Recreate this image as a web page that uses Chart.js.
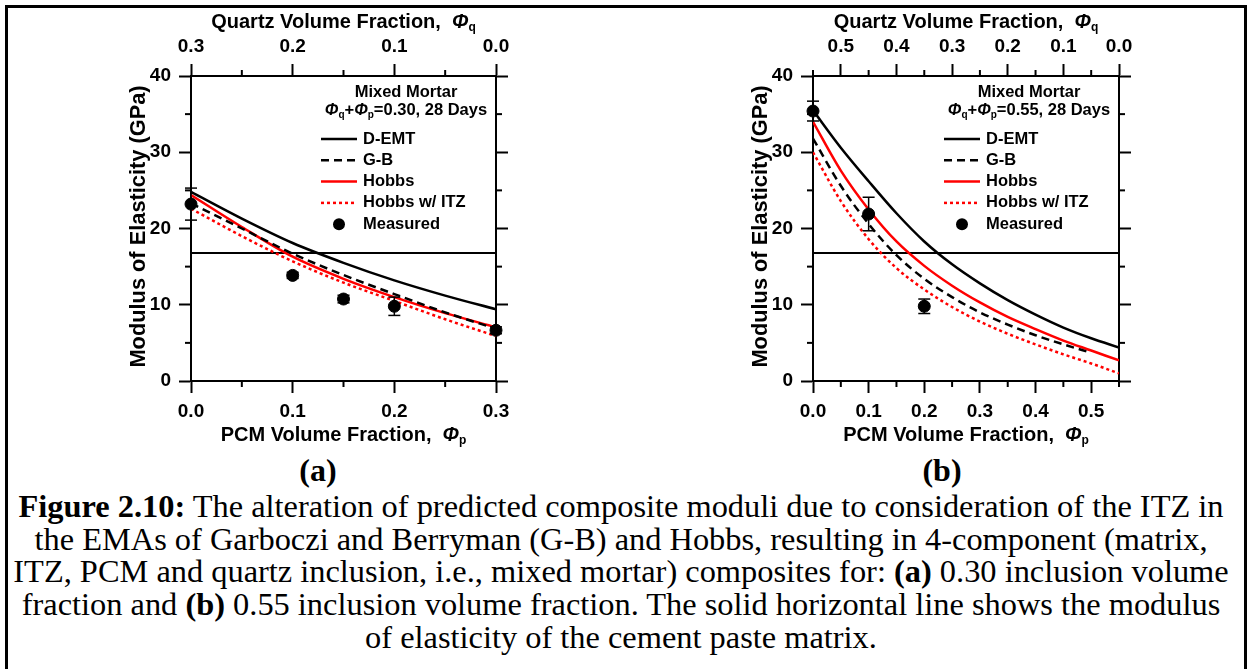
<!DOCTYPE html>
<html lang="en">
<head>
    <meta charset="UTF-8">
    <title>Figure 2.10</title>
    <script src="https://cdn.jsdelivr.net/npm/chart.js"></script>
    <style>
        body { margin: 0; width: 1252px; height: 669px; position: relative; background: #fff; overflow: hidden; }
        #frame { position: absolute; left: 5px; top: 5px; width: 1236px; height: 700px; border: 3px solid #000; }
        canvas { position: absolute; top: 0; }
        .lbl { position: absolute; width: 100px; text-align: center; font: bold 32px/32.5px "Liberation Serif", "Times New Roman", serif; }
        #caption { position: absolute; left: 0; top: 490px; width: 1242px; text-align: center; white-space: nowrap;
                   font: 32.4px/32.7px "Liberation Serif", "Times New Roman", serif; color: #000; }
    </style>
</head>
<body>
    <div id="frame"></div>
    <canvas id="chartA" width="620" height="450" style="left:0px"></canvas>
    <canvas id="chartB" width="626" height="450" style="left:626px"></canvas>
    <div class="lbl" style="left:268px; top:454px">(a)</div>
    <div class="lbl" style="left:892px; top:454px">(b)</div>
    <div id="caption"><b>Figure 2.10:</b> The alteration of predicted composite moduli due to consideration of the ITZ in<br>the EMAs of Garboczi and Berryman (G-B) and Hobbs, resulting in 4-component (matrix,<br>ITZ, PCM and quartz inclusion, i.e., mixed mortar) composites for: <b>(a)</b> 0.30 inclusion volume<br>fraction and <b>(b)</b> 0.55 inclusion volume fraction. The solid horizontal line shows the modulus<br>of elasticity of the cement paste matrix.</div>
    <script>
        // (a) 0.30 inclusion volume fraction
        const pcmA = [0, 0.05, 0.1, 0.15, 0.2, 0.25, 0.3];
        const demtA = [24.8, 21.3, 18.1, 15.5, 13.2, 11.2, 9.4];
        const gbA = [23.3, 20.0, 16.7, 13.9, 11.4, 9.0, 6.85];
        const hobbsA = [24.4, 20.2, 16.3, 13.4, 11.0, 8.9, 7.05];
        const itzA = [22.6, 19.0, 15.7, 12.9, 10.5, 8.1, 5.9];
        const measPcmA = [0, 0.1, 0.15, 0.2, 0.3];
        const measA = [23.2, 13.85, 10.75, 9.8, 6.65];
        const measErrA = [2.1, 0.4, 0.5, 1.2, 0.45];

        // (b) 0.55 inclusion volume fraction
        const pcmB = [0, 0.05, 0.1, 0.15, 0.2, 0.25, 0.3, 0.35, 0.4, 0.45, 0.5, 0.55];
        const demtB = [35.5, 30.6, 26.2, 22.0, 18.3, 15.3, 12.8, 10.6, 8.7, 7.0, 5.6, 4.4];
        const gbB = [31.8, 25.6, 20.6, 16.5, 13.4, 11.0, 9.0, 7.4, 6.0, 4.8, 3.7, null];
        const hobbsB = [34.0, 27.6, 22.5, 18.3, 15.1, 12.5, 10.3, 8.4, 6.8, 5.3, 4.0, 2.7];
        const itzB = [30.0, 23.6, 18.6, 14.8, 12.0, 9.7, 7.8, 6.2, 4.8, 3.5, 2.3, 1.0];
        const measPcmB = [0, 0.1, 0.2];
        const measB = [35.4, 21.9, 9.8];
        const measErrB = [1.3, 2.2, 0.95];

        // cement paste matrix modulus (horizontal line)
        const matrixE = 16.8;

        // ticks
        const eTicks = [0, 10, 20, 30, 40];
        const eMinor = [5, 15, 25, 35];
        const pcmTicksA = [0, 0.1, 0.2, 0.3];
        const pcmMinorA = [0.05, 0.15, 0.25];
        const quartzTicksA = [0, 0.1, 0.2, 0.3];
        const quartzMinorA = [0.05, 0.15, 0.25];
        const pcmTicksB = [0, 0.1, 0.2, 0.3, 0.4, 0.5];
        const pcmMinorB = [0.05, 0.15, 0.25, 0.35, 0.45, 0.55];
        const quartzTicksB = [0, 0.1, 0.2, 0.3, 0.4, 0.5];
        const quartzMinorB = [0.05, 0.15, 0.25, 0.35, 0.45, 0.55];

        const SANS = '"Liberation Sans", Arial, Helvetica, sans-serif';

        // text with italic Φ and subscripts, centred on (cx, cy)
        function drawRich(ctx, parts, cx, cy, size) {
            const fonts = {
                n: `bold ${size}px ${SANS}`,
                i: `italic bold ${size}px ${SANS}`,
                s: `bold ${Math.round(size * 0.62)}px ${SANS}`
            };
            let total = 0;
            const w = parts.map(p => { ctx.font = fonts[p[1]]; const m = ctx.measureText(p[0]).width; total += m; return m; });
            let x = cx - total / 2;
            ctx.textAlign = 'left';
            ctx.textBaseline = 'middle';
            parts.forEach((p, i) => {
                ctx.font = fonts[p[1]];
                ctx.fillText(p[0], x, cy + (p[1] === 's' ? size * 0.3 : 0));
                x += w[i];
            });
        }

        function makePanel(id, p) {
            const canvas = document.getElementById(id);
            const W = canvas.width, H = canvas.height;
            const xy = (xs, ys) => xs.map((x, i) => ({ x: x, y: ys[i] }));
            const line = { showLine: true, pointRadius: 0, fill: false, cubicInterpolationMode: 'monotone' };

            const datasets = [
                { label: 'Measured', data: xy(p.measX, p.measY), showLine: false, pointRadius: 6,
                  pointHoverRadius: 6, backgroundColor: '#000', borderColor: '#000', clip: false },
                { ...line, label: 'D-EMT', data: xy(p.xs, p.demt), borderColor: '#000', borderWidth: 2.5 },
                { ...line, label: 'G-B', data: xy(p.xs, p.gb), borderColor: '#000', borderWidth: 2.5, borderDash: [8, 5] },
                { ...line, label: 'Hobbs', data: xy(p.xs, p.hobbs), borderColor: '#ff0000', borderWidth: 2.5 },
                { ...line, label: 'Hobbs w/ ITZ', data: xy(p.xs, p.itz), borderColor: '#ff0000', borderWidth: 2.5, borderDash: [3, 3] },
                { ...line, label: 'matrix', data: [{ x: 0, y: matrixE }, { x: p.xMax, y: matrixE }], borderColor: '#000', borderWidth: 2 }
            ];

            const tickFont = { family: SANS, size: 19, weight: 'bold' };
            const axis = (extra) => Object.assign({
                type: 'linear',
                grid: { drawOnChartArea: false, drawTicks: true, tickLength: 12, tickWidth: 2, color: '#000' },
                border: { display: true, color: '#000', width: 2 },
                ticks: { color: '#000', font: tickFont, autoSkip: false, maxRotation: 0 }
            }, extra);
            const setTicks = (vals) => (s) => { s.ticks = vals.map(v => ({ value: v })); };

            const decor = {
                id: 'decor',
                afterDraw(chart) {
                    const ctx = chart.ctx, a = chart.chartArea;
                    const sx = chart.scales.x, sx2 = chart.scales.x2, sy = chart.scales.y;
                    const seg = (x1, y1, x2, y2) => { ctx.beginPath(); ctx.moveTo(x1, y1); ctx.lineTo(x2, y2); ctx.stroke(); };
                    ctx.save();
                    ctx.strokeStyle = '#000';
                    ctx.fillStyle = '#000';
                    ctx.lineWidth = 2;
                    // minor ticks
                    p.pcmMinor.forEach(v => { const px = sx.getPixelForValue(v); seg(px, a.bottom, px, a.bottom + 6); });
                    p.quartzMinor.forEach(v => { const px = sx2.getPixelForValue(v); seg(px, a.top, px, a.top - 6); });
                    eMinor.forEach(v => {
                        const py = sy.getPixelForValue(v);
                        seg(a.left - 6, py, a.left, py);
                        seg(a.right, py, a.right + 6, py);
                    });
                    // error bars
                    ctx.lineWidth = 1.5;
                    p.measX.forEach((x, i) => {
                        const px = sx.getPixelForValue(x);
                        const hi = sy.getPixelForValue(p.measY[i] + p.measErr[i]);
                        const lo = sy.getPixelForValue(p.measY[i] - p.measErr[i]);
                        seg(px, hi, px, lo);
                        seg(px - 6, hi, px + 6, hi);
                        seg(px - 6, lo, px + 6, lo);
                    });
                    // axis titles
                    const cx = (a.left + a.right) / 2;
                    drawRich(ctx, [['Quartz Volume Fraction,  ', 'n'], ['Φ', 'i'], ['q', 's']], cx, a.top - 54, 20);
                    drawRich(ctx, [['PCM Volume Fraction,  ', 'n'], ['Φ', 'i'], ['p', 's']], cx, a.bottom + 54, 20);
                    ctx.save();
                    ctx.translate(a.left - 52, (a.top + a.bottom) / 2 - 2);
                    ctx.rotate(-Math.PI / 2);
                    drawRich(ctx, [['Modulus of Elasticity (GPa)', 'n']], 0, 0, 21.8);
                    ctx.restore();
                    // legend
                    const lx = a.right - 90;
                    drawRich(ctx, [['Mixed Mortar', 'n']], lx, a.top + 16, 16.5);
                    drawRich(ctx, [['Φ', 'i'], ['q', 's'], ['+', 'n'], ['Φ', 'i'], ['p', 's'], [p.header, 'n']], lx, a.top + 34, 16.5);
                    const order = [1, 2, 3, 4, 0];
                    order.forEach((di, i) => {
                        const ds = chart.data.datasets[di];
                        const y = a.top + 63 + i * 21.3;
                        if (di === 0) {
                            ctx.beginPath();
                            ctx.arc(a.right - 157, y, 6, 0, Math.PI * 2);
                            ctx.fill();
                        } else {
                            ctx.save();
                            ctx.strokeStyle = ds.borderColor;
                            ctx.lineWidth = ds.borderWidth;
                            ctx.setLineDash(ds.borderDash || []);
                            seg(a.right - 175, y, a.right - 139, y);
                            ctx.restore();
                        }
                        ctx.font = `bold 16.5px ${SANS}`;
                        ctx.textAlign = 'left';
                        ctx.textBaseline = 'middle';
                        ctx.fillText(ds.label, a.right - 133, y);
                    });
                    ctx.restore();
                }
            };

            return new Chart(canvas, {
                type: 'scatter',
                data: { datasets: datasets },
                options: {
                    responsive: false,
                    animation: false,
                    events: [],
                    layout: { padding: { left: 0, top: 0, right: W - p.plot.right - 20, bottom: H - p.plot.bottom - 60 } },
                    plugins: { legend: { display: false }, tooltip: { enabled: false } },
                    scales: {
                        x: axis({
                            position: 'bottom', min: 0, max: p.xMax,
                            afterBuildTicks: setTicks(p.pcmTicks),
                            afterFit: (s) => { s.height = 60; },
                            ticks: { color: '#000', font: tickFont, autoSkip: false, maxRotation: 0, padding: 7,
                                     callback: (v) => v.toFixed(1) }
                        }),
                        x2: axis({
                            position: 'top', min: 0, max: p.xMax, reverse: true,
                            afterBuildTicks: setTicks(p.quartzTicks),
                            afterFit: (s) => { s.height = p.plot.top; },
                            ticks: { color: '#000', font: tickFont, autoSkip: false, maxRotation: 0, padding: 6,
                                     callback: (v) => v.toFixed(1) }
                        }),
                        y: axis({
                            position: 'left', min: 0, max: 40,
                            afterBuildTicks: setTicks(eTicks),
                            afterFit: (s) => { s.width = p.plot.left; },
                            ticks: { color: '#000', font: tickFont, padding: 8, callback: (v) => String(v) }
                        }),
                        y2: axis({
                            position: 'right', min: 0, max: 40,
                            afterBuildTicks: setTicks(eTicks),
                            afterFit: (s) => { s.width = 20; },
                            ticks: { display: false }
                        })
                    }
                },
                plugins: [decor]
            });
        }

        makePanel('chartA', {
            xMax: 0.3, xs: pcmA, demt: demtA, gb: gbA, hobbs: hobbsA, itz: itzA,
            measX: measPcmA, measY: measA, measErr: measErrA,
            pcmTicks: pcmTicksA, pcmMinor: pcmMinorA, quartzTicks: quartzTicksA, quartzMinor: quartzMinorA,
            header: '=0.30, 28 Days',
            plot: { left: 191, right: 496, top: 76, bottom: 381 }
        });

        makePanel('chartB', {
            xMax: 0.55, xs: pcmB, demt: demtB, gb: gbB, hobbs: hobbsB, itz: itzB,
            measX: measPcmB, measY: measB, measErr: measErrB,
            pcmTicks: pcmTicksB, pcmMinor: pcmMinorB, quartzTicks: quartzTicksB, quartzMinor: quartzMinorB,
            header: '=0.55, 28 Days',
            plot: { left: 187, right: 493, top: 76, bottom: 381 }
        });
    </script>
</body>
</html>
